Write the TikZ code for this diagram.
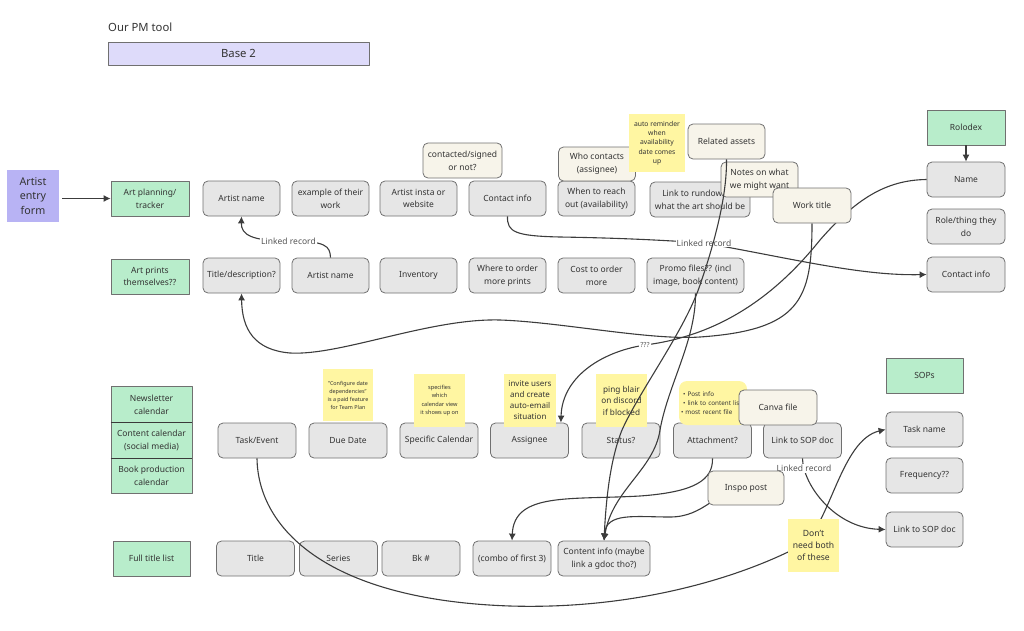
\documentclass[tikz,border=0pt]{standalone}
\usepackage{fontspec}
\setmainfont{Noto Sans}
\usetikzlibrary{arrows.meta}
\definecolor{fieldgray}{HTML}{E6E6E6}
\definecolor{edgegray}{HTML}{707070}
\definecolor{darkedge}{HTML}{3A3A3A}
\definecolor{creamfill}{HTML}{F7F4EA}
\definecolor{tablegreen}{HTML}{B8EDCB}
\definecolor{stickyyellow}{HTML}{FFF6A2}
\definecolor{formfill}{HTML}{B8B3F4}
\definecolor{basefill}{HTML}{DEDBFA}
\definecolor{inkgray}{HTML}{333333}
\definecolor{linkgray}{HTML}{3C3C3C}
\definecolor{labelgray}{HTML}{555555}
\pgfdeclarelayer{front}
\pgfsetlayers{main,front}
\begin{document}
\begin{tikzpicture}[>={Latex[length=7bp,width=7bp]},line join=bevel,
  field/.style={draw=edgegray,line width=0.8bp,fill=fieldgray,rounded corners=5bp,minimum width=77bp,minimum height=35bp,inner sep=1bp,align=center,text=inkgray,font=\fontsize{8.5bp}{12.7bp}\selectfont},
  extra/.style={field,fill=creamfill},
  tablebox/.style={field,sharp corners,fill=tablegreen},
  sticky/.style={fill=stickyyellow,minimum width=51bp,minimum height=53bp,inner sep=1bp,align=center,text=inkgray},
  linklabel/.style={fill=white,inner sep=1bp,text=labelgray,font=\fontsize{8.5bp}{10bp}\selectfont},
  connector/.style={draw=linkgray,line width=1.1bp},
  ]
\useasboundingbox (0bp,0bp) rectangle (1024bp,-631bp);
%%
\node (node_heading) at (108bp,-27bp) [anchor=west,inner sep=0bp,text=inkgray,font=\fontsize{11.3bp}{13bp}\selectfont] {Our PM tool};
\node (node_base) at (238.5bp,-53.5bp) [draw=edgegray,line width=0.8bp,fill=basefill,minimum width=261bp,minimum height=23bp,text=inkgray,font=\fontsize{11.3bp}{13bp}\selectfont] {Base 2};
%% art tables
\node (node_form) at (33bp,-196bp) [fill=formfill,minimum width=52bp,minimum height=52bp,inner sep=0bp,align=center,text=inkgray,font=\fontsize{10.7bp}{14.5bp}\selectfont] {Artist\\entry\\form};
\node (node_planning) at (150bp,-198.5bp) [tablebox,minimum width=78bp] {Art planning/\\tracker};
\node (node_prints) at (150bp,-276.5bp) [tablebox,minimum width=78bp] {Art prints\\themselves??};
\node (node_artist) at (241.5bp,-198.5bp) [field] {Artist name};
\node (node_example) at (330.5bp,-198.5bp) [field] {example of their\\work};
\node (node_insta) at (418.5bp,-198.5bp) [field] {Artist insta or\\website};
\node (node_contact) at (507.5bp,-198.5bp) [field] {Contact info};
\node (node_reach) at (596.5bp,-198.5bp) [field] {When to reach\\out (availability)};
\node (node_rundown) at (700bp,-199.5bp) [field,minimum width=100bp] {Link to rundown of\\what the art should be};
\node (node_titledesc) at (241.5bp,-275.5bp) [field] {Title/description?};
\node (node_artist2) at (330.5bp,-275.5bp) [field] {Artist name};
\node (node_inventory) at (418.5bp,-275.5bp) [field] {Inventory};
\node (node_where) at (507.5bp,-275.5bp) [field] {Where to order\\more prints};
\node (node_cost) at (596.5bp,-275.5bp) [field] {Cost to order\\more};
\node (node_promo) at (695.5bp,-275.5bp) [field,minimum width=97bp] {Promo files?? (incl\\image, book content)};
\node (node_contacted) at (462.5bp,-160.5bp) [extra,minimum width=79bp] {contacted/signed\\or not?};
\node (node_who) at (597bp,-164bp) [extra,minimum height=34bp] {Who contacts\\(assignee)};
\node (node_related) at (726.5bp,-141.5bp) [extra] {Related assets};
\node (node_notes) at (759.5bp,-179.5bp) [extra] {Notes on what\\we might want};
\node (note_reminder) at (657bp,-143bp) [sticky,minimum width=56bp,minimum height=58bp,font=\fontsize{6.8bp}{9.3bp}\selectfont] {auto reminder\\when\\availability\\date comes\\up};
%% rolodex
\node (node_rolodex) at (966bp,-127.5bp) [tablebox,minimum width=78bp] {Rolodex};
\node (node_name) at (966bp,-179.5bp) [field,minimum width=78bp] {Name};
\node (node_role) at (966bp,-226.5bp) [field,minimum width=78bp] {Role/thing they\\do};
\node (node_contact2) at (966bp,-274.5bp) [field,minimum width=78bp] {Contact info};
%% calendars
\node (node_newsletter) at (151.5bp,-404.5bp) [tablebox,minimum width=81bp,minimum height=35.7bp] {Newsletter\\calendar};
\node (node_social) at (151.5bp,-440.2bp) [tablebox,minimum width=81bp,minimum height=35.7bp] {Content calendar\\(social media)};
\node (node_bookprod) at (151.5bp,-475.9bp) [tablebox,minimum width=81bp,minimum height=35.7bp] {Book production\\calendar};
\draw [darkedge,line width=1.2bp] (node_newsletter.south west) -- (node_newsletter.south east);
\draw [darkedge,line width=1.2bp] (node_social.south west) -- (node_social.south east);
\node (node_fulllist) at (151.5bp,-558.5bp) [tablebox] {Full title list};
\node (node_task) at (257bp,-440.5bp) [field,minimum width=78bp] {Task/Event};
\node (node_due) at (348bp,-440.5bp) [field,minimum width=78bp] {Due Date};
\node (node_calendar) at (439bp,-440.5bp) [field,minimum width=78bp] {Specific Calendar};
\node (node_assignee) at (529.5bp,-440.5bp) [field,minimum width=78bp] {Assignee};
\node (node_status) at (621bp,-440.5bp) [field,minimum width=78bp] {Status?};
\node (node_attachment) at (712.5bp,-440.5bp) [field,minimum width=78bp] {Attachment?};
\node (node_sop) at (802.5bp,-440.5bp) [field,minimum width=78bp] {Link to SOP doc};
\node (note_dates) at (348bp,-395bp) [sticky,minimum width=50bp,minimum height=52bp,font=\fontsize{5.4bp}{8bp}\selectfont] {"Configure date\\dependencies"\\is a paid feature\\for Team Plan};
\node (note_calendar) at (439.5bp,-400.5bp) [sticky,font=\fontsize{5.6bp}{8.5bp}\selectfont] {specifies\\which\\calendar view\\it shows up on};
\node (note_invite) at (530bp,-400.5bp) [sticky,minimum width=52bp,font=\fontsize{8bp}{11bp}\selectfont] {invite users\\and create\\auto-email\\situation};
\node (note_ping) at (621.5bp,-400.5bp) [sticky,font=\fontsize{8.2bp}{11.5bp}\selectfont] {ping blair\\on discord\\if blocked};
\node (note_post) at (713bp,-403bp) [sticky,rounded corners=8bp,text width=64bp,inner sep=2bp,minimum height=44bp,align=left,font=\fontsize{6.3bp}{9bp}\selectfont] {\ \textbullet\ Post info\\ \ \textbullet\ link to content list\\ \textbullet\ most recent file};
\node (node_canva) at (778bp,-407.5bp) [extra,minimum width=78bp] {Canva file};
%% sops
\node (node_sops) at (924.5bp,-375.5bp) [tablebox] {SOPs};
\node (node_taskname) at (924.5bp,-429.5bp) [field] {Task name};
\node (node_frequency) at (924.5bp,-475.5bp) [field] {Frequency??};
\node (node_sopdoc) at (924.5bp,-529.5bp) [field] {Link to SOP doc};
%% titles
\node (node_title) at (255.5bp,-558.5bp) [field,minimum width=78bp] {Title};
\node (node_series) at (338.5bp,-558.5bp) [field,minimum width=78bp] {Series};
\node (node_bk) at (421bp,-558.5bp) [field,minimum width=78bp] {Bk \#};
\node (node_combo) at (512bp,-558.5bp) [field,minimum width=78bp] {(combo of first 3)};
\node (node_contentinfo) at (604bp,-558.5bp) [field,minimum width=92bp] {Content info (maybe\\link a gdoc tho?)};
\begin{pgfonlayer}{front}
\node (node_worktitle) at (812bp,-205.5bp) [extra,minimum width=78bp] {Work title};
\node (node_inspo) at (746bp,-488bp) [extra,minimum width=76bp,minimum height=34bp] {Inspo post};
\node (note_both) at (813.5bp,-545.5bp) [sticky,font=\fontsize{8.6bp}{11.7bp}\selectfont] {Don't\\need both\\of these};
\end{pgfonlayer}
%%
\draw [connector,->,shorten <=3bp] (node_form.east |- node_planning.west) -- (node_planning.west);
\draw [connector,->] (node_rolodex) -- (node_name);
\draw [connector,->] (node_artist2.north) .. controls (330bp,-246bp) and (326bp,-241bp) .. (288.5bp,-241bp) node [linklabel] {Linked record} .. controls (252bp,-241bp) and (241bp,-235bp) .. (node_artist.south);
\draw [connector,->] (node_contact.south) .. controls (507bp,-232bp) and (515bp,-236bp) .. (560bp,-237bp) .. controls (620bp,-238bp) and (660bp,-240bp) .. (704bp,-243bp) node [linklabel] {Linked record} .. controls (790bp,-258bp) and (860bp,-276bp) .. (node_contact2.west);
\draw [connector,->] (node_name.west) .. controls (885bp,-180bp) and (855bp,-200bp) .. (820bp,-240bp) .. controls (780bp,-290bp) and (725bp,-335bp) .. (645bp,-345bp) node [linklabel,font=\fontsize{7bp}{8bp}\selectfont] {???} .. controls (600bp,-352bp) and (562bp,-378bp) .. ([xshift=-8bp]node_assignee.north east);
\draw [connector,->] (node_worktitle.south) .. controls (812bp,-300bp) and (800bp,-330bp) .. (700bp,-337bp) .. controls (650bp,-340.5bp) and (560bp,-322bp) .. (500bp,-320bp) .. controls (430bp,-318bp) and (340bp,-356bp) .. (290bp,-353bp) .. controls (255bp,-350bp) and (242bp,-330bp) .. (node_titledesc.south);
\draw [connector,->] (node_related.south) .. controls (727bp,-200bp) and (712bp,-250bp) .. (700bp,-285bp) .. controls (685bp,-330bp) and (640bp,-390bp) .. (622bp,-430bp) .. controls (610bp,-460bp) and (606bp,-500bp) .. (node_contentinfo.north);
\draw [connector,->] (node_promo.south) .. controls (696bp,-340bp) and (668bp,-385bp) .. (660bp,-430bp) .. controls (654bp,-470bp) and (612bp,-490bp) .. (node_contentinfo.north);
\draw [connector,->] (node_attachment.south) .. controls (713bp,-480bp) and (695bp,-492bp) .. (640bp,-496bp) .. controls (570bp,-500bp) and (514bp,-492bp) .. (node_combo.north);
\draw [connector,->] (node_inspo.center) .. controls (715bp,-490bp) and (705bp,-517bp) .. (670bp,-517bp) .. controls (635bp,-517bp) and (606bp,-512bp) .. (node_contentinfo.north);
\draw [connector,->] (node_sop.south) .. controls (803bp,-485bp) and (835bp,-528bp) .. (node_sopdoc.west) node [linklabel,pos=0.12] {Linked record};
\draw [connector,->] (node_task.south) .. controls (258bp,-530bp) and (330bp,-600bp) .. (510bp,-606bp) .. controls (640bp,-610bp) and (745bp,-575bp) .. (800bp,-546bp) .. controls (830bp,-528bp) and (840bp,-440bp) .. (node_taskname.west);
%
\end{tikzpicture}
\end{document}
